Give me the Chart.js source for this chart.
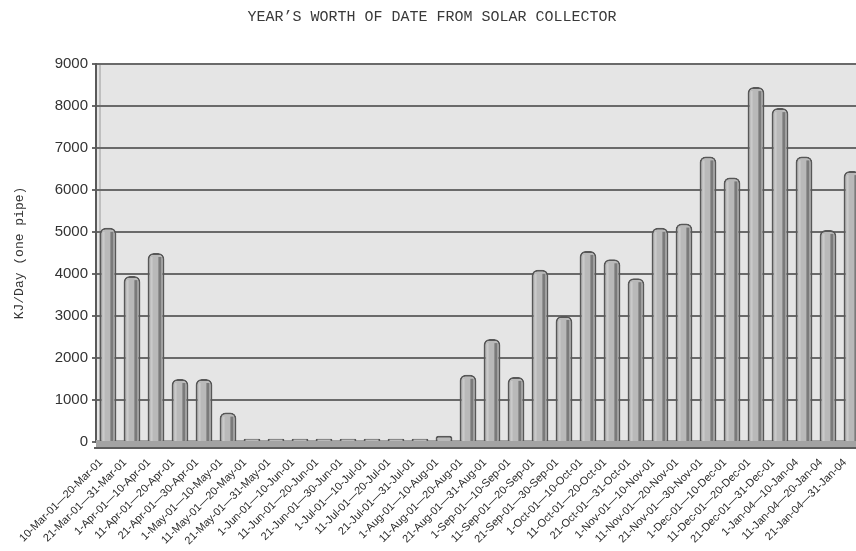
<!DOCTYPE html>
<html>
<head>
<meta charset="utf-8">
<script src="https://cdn.jsdelivr.net/npm/chart.js@4/dist/chart.umd.min.js"></script>
<style>
  html, body { margin: 0; padding: 0; background: #ffffff; overflow: hidden; }
  #wrap { width: 856px; height: 551px; overflow: hidden; }
  canvas { display: block; }
</style>
</head>
<body>
<div id="wrap"><canvas id="solar" width="938" height="551"></canvas></div>
<script>
// Ten-day collection periods
const periods = [
  "10-Mar-01—20-Mar-01", "21-Mar-01—31-Mar-01", "1-Apr-01—10-Apr-01",
  "11-Apr-01—20-Apr-01", "21-Apr-01—30-Apr-01", "1-May-01—10-May-01",
  "11-May-01—20-May-01", "21-May-01—31-May-01", "1-Jun-01—10-Jun-01",
  "11-Jun-01—20-Jun-01", "21-Jun-01—30-Jun-01", "1-Jul-01—10-Jul-01",
  "11-Jul-01—20-Jul-01", "21-Jul-01—31-Jul-01", "1-Aug-01—10-Aug-01",
  "11-Aug-01—20-Aug-01", "21-Aug-01—31-Aug-01", "1-Sep-01—10-Sep-01",
  "11-Sep-01—20-Sep-01", "21-Sep-01—30-Sep-01", "1-Oct-01—10-Oct-01",
  "11-Oct-01—20-Oct-01", "21-Oct-01—31-Oct-01", "1-Nov-01—10-Nov-01",
  "11-Nov-01—20-Nov-01", "21-Nov-01—30-Nov-01", "1-Dec-01—10-Dec-01",
  "11-Dec-01—20-Dec-01", "21-Dec-01—31-Dec-01", "1-Jan-04—10-Jan-04",
  "11-Jan-04—20-Jan-04", "21-Jan-04—31-Jan-04"
];

// Average collected energy per day, KJ (one pipe)
const kjPerDay = [
  5100, 3950, 4500, 1500, 1500, 700,
  80, 80, 80, 80, 80, 80, 80, 80,
  150, 1600, 2450, 1550, 4100, 3000,
  4550, 4350, 3900, 5100, 5200, 6800,
  6300, 8450, 7950, 6800, 5050, 6450
];

// Value axis tick marks
const yTickValues = [0, 1000, 2000, 3000, 4000, 5000, 6000, 7000, 8000, 9000];

// Back wall and floor of the plot
const wallPlugin = {
  id: 'wall',
  beforeDatasetsDraw(chart) {
    const { ctx, chartArea } = chart;
    const y0 = chart.scales.y.getPixelForValue(0);
    ctx.save();
    ctx.fillStyle = '#a3a3a3';
    ctx.fillRect(chartArea.left, y0 - 2, chartArea.right - chartArea.left, 7);
    ctx.strokeStyle = '#5c5c5c';
    ctx.lineWidth = 2;
    ctx.beginPath();
    ctx.moveTo(chartArea.left - 2, y0 + 6);
    ctx.lineTo(chartArea.right, y0 + 6);
    ctx.stroke();
    ctx.restore();
  },
  beforeDraw(chart) {
    const { ctx, chartArea } = chart;
    ctx.save();
    ctx.fillStyle = '#e5e5e5';
    ctx.fillRect(chartArea.left, chartArea.top, chartArea.right - chartArea.left, chartArea.bottom - chartArea.top);
    ctx.strokeStyle = '#8a8a8a';
    ctx.lineWidth = 2;
    ctx.beginPath();
    ctx.moveTo(chartArea.left, chartArea.top);
    ctx.lineTo(chartArea.right, chartArea.top);
    ctx.stroke();
    ctx.strokeStyle = '#9a9a9a';
    ctx.lineWidth = 1;
    ctx.beginPath();
    ctx.moveTo(chartArea.left + 4, chartArea.top);
    ctx.lineTo(chartArea.left + 4, chartArea.bottom);
    ctx.stroke();
    ctx.restore();
  }
};

// Darker side face on each column
const columnShade = {
  id: 'columnShade',
  afterDatasetsDraw(chart) {
    const { ctx } = chart;
    const meta = chart.getDatasetMeta(0);
    ctx.save();
    meta.data.forEach(bar => {
      const h = bar.base - bar.y;
      if (h < 8) return;
      ctx.fillStyle = '#7a7a7a';
      ctx.fillRect(bar.x + bar.width / 2 - 6, bar.y + 4, 3, h - 4);
      ctx.fillStyle = 'rgba(255,255,255,0.25)';
      ctx.fillRect(bar.x - bar.width / 2 + 3, bar.y + 4, 2, h - 4);
    });
    ctx.restore();
  }
};

new Chart(document.getElementById('solar'), {
  type: 'bar',
  data: {
    labels: periods,
    datasets: [{
      data: kjPerDay,
      backgroundColor: '#b9b9b9',
      borderColor: '#575757',
      borderWidth: 2,
      borderSkipped: 'bottom',
      borderRadius: { topLeft: 6, topRight: 6, bottomLeft: 0, bottomRight: 0 },
      barPercentage: 0.7,
      categoryPercentage: 1.0
    }]
  },
  plugins: [wallPlugin, columnShade],
  options: {
    responsive: false,
    animation: false,
    layout: { padding: { left: 0, right: 74, top: 0, bottom: 0 } },
    plugins: {
      legend: { display: false },
      tooltip: { enabled: false },
      title: {
        display: true,
        text: 'YEAR’S WORTH OF DATE FROM SOLAR COLLECTOR',
        color: '#3a3a3a',
        font: { family: 'Liberation Mono', size: 15, weight: 'normal', lineHeight: 1.2 },
        padding: { top: 8, bottom: 38 }
      }
    },
    scales: {
      x: {
        offset: true,
        grid: { display: false },
        border: { display: false },
        ticks: {
          autoSkip: false,
          minRotation: 45,
          maxRotation: 45,
          padding: 6,
          labelOffset: -7,
          color: '#2a2a2a',
          font: { family: 'Liberation Sans', size: 11 }
        },
        afterFit(scale) { scale.height = 109; }
      },
      y: {
        min: 0,
        max: 9000,
        afterBuildTicks(scale) { scale.ticks = yTickValues.map(v => ({ value: v })); },
        grid: { color: '#6a6a6a', lineWidth: 2, tickLength: 4, tickColor: '#6a6a6a' },
        border: { display: true, color: '#5a5a5a', width: 2 },
        ticks: {
          padding: 4,
          color: '#333333',
          font: { family: 'Liberation Sans', size: 15 },
          callback: v => String(v)
        },
        title: {
          display: true,
          text: 'KJ/Day (one pipe)',
          color: '#333333',
          font: { family: 'Liberation Mono', size: 13 },
          padding: { top: 12, bottom: 0 }
        },
        afterFit(scale) { scale.width = 96; }
      }
    }
  }
});
</script>
</body>
</html>
